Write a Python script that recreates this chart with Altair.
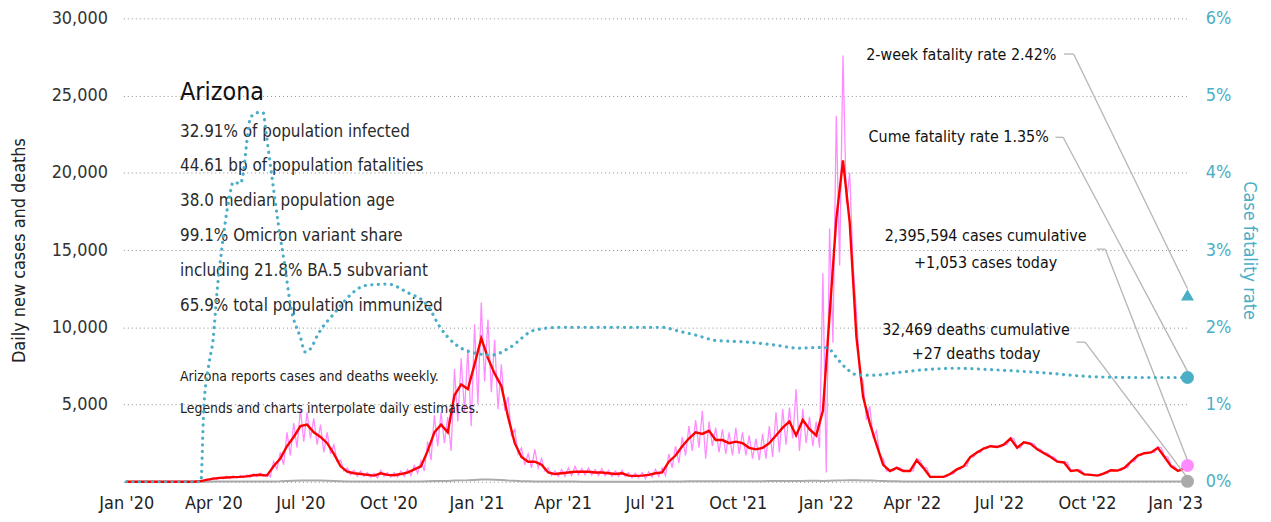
import altair as alt
import pandas as pd

# ---------------- data ----------------
# weekly 7-day average of new cases, weeks starting 2020-01-01
red_7day = [
    0, 0, 0, 0, 0, 0, 0, 0, 0, 0, 5, 30,
    120, 200, 250, 280, 300, 320, 350, 420, 450,
    400, 1000, 1500, 2300, 2900, 3600, 3700, 3200, 2900, 2500,
    1800, 1000, 650, 550, 500, 450, 400, 550, 450, 420,
    500, 600, 800, 1000, 2000, 3200, 3700, 3200, 5600, 6300, 6000, 7600,
    9300, 8000, 7000, 6200, 4200, 2500, 1600, 1300,
    1300, 1100, 600, 500, 550, 600, 650, 650, 650, 600,
    600, 550, 500, 550, 400, 380, 400, 450, 550, 600,
    1300, 1700, 2300, 2800, 3200, 3100, 3300, 2700, 2700, 2500,
    2600, 2500, 2200, 2100, 2200, 2500, 3000, 3500, 3900, 3000,
    4000, 3400, 3000, 4600, 10800, 17000, 20800, 16800, 9400, 5500,
    3800, 2400, 1100, 700, 900, 700, 700, 1400, 900, 320,
    320, 320, 500, 800, 1000, 1600, 1900, 2150, 2300, 2250,
    2400, 2800, 2200, 2550, 2450, 2100, 1850, 1600, 1300, 1250,
    700, 750, 480, 450, 400, 550, 750, 720, 900, 1300,
    1700, 1850, 1900, 2200, 1600, 1000, 700, 900,
]

# reported daily cases, two readings per week (every 3.5 days) from 2020-01-01
pink_daily = [
    0, 0, 0, 0, 0, 0, 0, 0, 0, 0, 0, 0, 0, 0, 0, 0, 0, 0, 0, 0,
    10, 0, 50, 20,
    180, 80, 260, 150, 300, 200, 350, 220, 380, 240, 400, 260, 450, 280, 520, 330, 560, 350,
    500, 320, 1300, 800, 1900, 1100, 3200, 1700, 3800, 2200, 4700, 2600, 4500, 2800, 4100, 2400, 3700, 1900, 3200, 1800,
    2400, 1300, 1400, 700, 900, 450, 750, 350, 700, 350, 600, 300, 550, 250, 750, 350, 600, 300, 600, 300,
    700, 350, 800, 400, 1050, 550, 1350, 700, 2600, 1400, 4300, 2300, 4500, 2500, 4200, 2000, 7300, 3900, 8000, 4500, 8600, 3600, 10200, 5000,
    11600, 6500, 10500, 5800, 9200, 4700, 7600, 4600, 5500, 3000, 3400, 1800, 2200, 1100, 1800, 900,
    2100, 900, 1500, 700, 900, 400, 700, 350, 800, 350, 900, 400, 1000, 450, 850, 450, 900, 450, 800, 400,
    850, 400, 750, 350, 700, 350, 750, 350, 600, 250, 550, 250, 600, 200, 650, 300, 800, 350, 900, 400,
    1800, 900, 2300, 1200, 2900, 1700, 3600, 2000, 4000, 2200, 4600, 1500, 3900, 2300, 3500, 1900, 3400, 1800, 3200, 1700,
    3500, 1800, 3200, 1700, 3000, 1500, 2800, 1400, 3100, 1500, 3600, 1600, 4500, 1900, 4700, 2400, 4800, 2800, 6000, 2000,
    4700, 2500, 4200, 2300, 3900, 2200, 13500, 600, 16400, 9000, 23700, 14000, 27600, 18000, 20000, 14100, 11000, 7000, 6500, 4000,
    4900, 2900, 3300, 1700, 1500, 700, 750, 700, 950, 900, 750, 700, 700, 700, 1500, 1400, 950, 900, 350, 320,
    320, 320, 320, 320, 550, 500, 850, 800, 1050, 1000, 1650, 1600, 1950, 1900, 2200, 2150, 2350, 2300, 2300, 2250,
    2450, 2400, 2850, 2800, 2250, 2200, 2600, 2550, 2500, 2450, 2150, 2100, 1900, 1850, 1650, 1600, 1350, 1300, 1300, 1250,
    750, 700, 800, 750, 500, 480, 480, 450, 420, 400, 600, 550, 800, 750, 750, 720, 950, 900, 1350, 1300,
    1750, 1700, 1900, 1850, 1950, 1900, 2250, 2200, 1650, 1600, 1050, 1000, 750, 700, 950, 1053,
]

# weekly daily deaths, weeks starting 2020-01-01
deaths_weekly = [
    0, 0, 0, 0, 0, 0, 0, 0, 0, 0, 1, 3,
    8, 12, 15, 18, 18, 15, 15, 15, 18,
    18, 20, 30, 50, 70, 85, 90, 85, 75, 60,
    50, 35, 25, 20, 15, 12, 12, 15, 12, 12,
    12, 15, 20, 25, 35, 45, 50, 55, 75, 90, 100, 120,
    140, 150, 130, 110, 80, 60, 40, 30,
    25, 20, 15, 12, 10, 10, 10, 8, 8, 8,
    8, 8, 8, 8, 8, 8, 8, 8, 10, 12,
    15, 20, 25, 30, 35, 40, 40, 40, 40, 35,
    35, 35, 35, 35, 40, 45, 50, 55, 55, 55,
    55, 60, 60, 50, 60, 75, 90, 100, 100, 90,
    80, 60, 50, 40, 30, 25, 20, 15, 12, 10,
    10, 10, 10, 10, 10, 10, 10, 10, 10, 10,
    10, 10, 10, 10, 10, 10, 10, 10, 10, 10,
    10, 10, 10, 10, 10, 10, 10, 10, 10, 10,
    10, 10, 12, 15, 15, 15, 15, 20,
]

# cumulative case fatality rate (%)
cfr_dates = [
    "2020-01-01", "2020-03-19", "2020-03-22", "2020-03-27", "2020-04-01", "2020-04-05",
    "2020-04-10", "2020-04-17", "2020-04-22", "2020-04-29", "2020-05-03", "2020-05-06",
    "2020-05-10", "2020-05-18", "2020-05-23", "2020-05-26", "2020-06-01", "2020-06-08",
    "2020-06-15", "2020-06-21", "2020-07-01", "2020-07-06", "2020-07-12", "2020-07-19",
    "2020-08-06", "2020-08-27", "2020-09-06", "2020-09-30", "2020-10-21", "2020-11-11",
    "2020-11-24", "2020-12-09", "2020-12-19", "2021-01-02", "2021-01-17", "2021-02-05",
    "2021-03-02", "2021-03-29", "2021-05-06", "2021-07-15", "2021-07-28", "2021-08-18",
    "2021-09-08", "2021-10-09", "2021-11-09", "2021-12-03", "2021-12-28", "2022-01-03",
    "2022-01-14", "2022-01-24", "2022-02-04", "2022-02-21", "2022-03-14", "2022-04-14",
    "2022-05-15", "2022-06-26", "2022-08-17", "2022-10-08", "2022-11-29", "2023-01-14",
]
cfr_pct = [
    0, 0, 0.94, 1.49, 1.87, 2.47,
    3.03, 3.63, 3.88, 3.86, 4.05, 4.40,
    4.72, 4.78, 4.78, 4.53, 3.97, 3.33,
    2.77, 2.26, 1.87, 1.68, 1.73, 1.90,
    2.19, 2.47, 2.54, 2.56, 2.45, 2.28,
    2.00, 1.79, 1.71, 1.66, 1.64, 1.74,
    1.96, 2.00, 2.00, 2.00, 1.96, 1.90,
    1.83, 1.81, 1.77, 1.73, 1.74, 1.73,
    1.58, 1.45, 1.38, 1.38, 1.41, 1.45,
    1.47, 1.45, 1.41, 1.36, 1.35, 1.35,
]

# summary figures
state = "Arizona"
info_lines = [
    "32.91% of population infected",
    "44.61 bp of population fatalities",
    "38.0 median population age",
    "99.1% Omicron variant share",
    "including 21.8% BA.5 subvariant",
    "65.9% total population immunized",
]
note_lines = [
    "Arizona reports cases and deaths weekly.",
    "Legends and charts interpolate daily estimates.",
]
last_date = "2023-01-14"
total_cases = 2395594
cases_today = 1053
total_deaths = 32469
deaths_today = 27
cfr_2wk = 2.42
cfr_cume = 1.35

tick_dates = [(y, m) for y in (2020, 2021, 2022) for m in (1, 4, 7, 10)] + [(2023, 1)]
left_ticks = [0, 5000, 10000, 15000, 20000, 25000, 30000]
right_ticks = [0, 0.01, 0.02, 0.03, 0.04, 0.05, 0.06]

# annotation positions (date, left-axis value)
label_right = pd.DataFrame({
    "date": ["2022-08-30", "2022-08-22"],
    "val": [27630, 22300],
    "label": [f"2-week fatality rate {cfr_2wk:.2f}%", f"Cume fatality rate {cfr_cume:.2f}%"],
})
label_center = pd.DataFrame({
    "date": ["2022-06-17", "2022-06-17", "2022-06-07", "2022-06-07"],
    "val": [15900, 14150, 9850, 8250],
    "label": [f"{total_cases:,} cases cumulative", f"+{cases_today:,} cases today",
              f"{total_deaths:,} deaths cumulative", f"+{deaths_today:,} deaths today"],
})
leaders = pd.DataFrame({
    "d1": ["2022-09-07", "2022-09-17", "2022-08-29", "2022-09-06",
           "2022-10-11", "2022-10-20", "2022-09-20", "2022-09-29"],
    "v1": [27690, 27690, 22300, 22300, 15060, 15060, 9040, 9040],
    "d2": ["2022-09-17", last_date, "2022-09-06", last_date,
           "2022-10-20", last_date, "2022-09-29", last_date],
    "v2": [27690, 12500, 22300, 7150, 15060, 1400, 9040, 250],
})

# ---------------- build ----------------
FONT = "'Liberation Sans Narrow', 'DejaVu Sans Condensed', 'Roboto Condensed', 'Arial Narrow', sans-serif"
TEAL = "#4aaec6"
PINK = "#ff8cff"
RED = "#ff0000"
GRAY = "#aaaaaa"
NOFRAME = alt.ViewBackground(stroke="transparent", strokeWidth=0, strokeOpacity=0)

start = pd.Timestamp("2020-01-01")
week_dates = list(pd.date_range(start, periods=len(red_7day), freq="7D")) + [pd.Timestamp(last_date)]
half_dates = pd.date_range(start, periods=len(pink_daily), freq="84h")

cases_df = pd.DataFrame({"date": half_dates, "cases": pink_daily})
avg_df = pd.DataFrame({"date": week_dates, "avg": red_7day + [cases_today]})
deaths_df = pd.DataFrame({"date": week_dates, "deaths": deaths_weekly + [deaths_today]})
cfr_df = pd.DataFrame({"date": pd.to_datetime(cfr_dates), "cfr": [v / 100 for v in cfr_pct]})
end_left = pd.DataFrame({"date": [last_date, last_date], "val": [cases_today, deaths_today],
                         "kind": ["cases", "deaths"]})
end_right = pd.DataFrame({"date": [last_date, last_date], "cfr": [cfr_2wk / 100, cfr_cume / 100],
                          "kind": ["2wk", "cume"]})

xscale = alt.Scale(domain=[alt.DateTime(year=2019, month=12, date=29),
                           alt.DateTime(year=2023, month=1, date=16)])
xaxis = alt.Axis(values=[alt.DateTime(year=y, month=m, date=1) for y, m in tick_dates],
                 format="%b '%y", labelFont=FONT, labelFontSize=18, labelColor="#222",
                 ticks=False, domain=False, grid=False, labelPadding=13, title=None)
yscale_l = alt.Scale(domain=[0, 30000])
yaxis_l = alt.Axis(values=left_ticks, labelFont=FONT, labelFontSize=18,
                   labelColor="#333", ticks=False, domain=False, grid=True,
                   gridColor="#8a8a8a", gridDash=[1, 3], gridWidth=1,
                   labelPadding=16, title="Daily new cases and deaths",
                   titleFont=FONT, titleFontSize=18, titleFontWeight="normal",
                   titleColor="#222", titlePadding=23,
                   labelExpr="datum.value == 0 ? '' : format(datum.value, ',')")
yscale_r = alt.Scale(domain=[0, 0.06])
yaxis_r = alt.Axis(values=right_ticks, format=".0%", orient="right", labelFont=FONT,
                   labelFontSize=18, labelColor=TEAL, ticks=False, domain=False, grid=False,
                   labelPadding=16, title="Case fatality rate", titleFont=FONT,
                   titleFontSize=18, titleFontWeight="normal", titleColor=TEAL,
                   titlePadding=9)

X = alt.X("date:T", scale=xscale, axis=xaxis)

pink = alt.Chart(cases_df).mark_line(color=PINK, strokeWidth=1.3).encode(
    x=X, y=alt.Y("cases:Q", scale=yscale_l, axis=yaxis_l))
gray = alt.Chart(deaths_df).mark_line(color=GRAY, strokeWidth=2).encode(
    x=X, y=alt.Y("deaths:Q", scale=yscale_l, axis=yaxis_l))
red = alt.Chart(avg_df).mark_line(color=RED, strokeWidth=2.4).encode(
    x=X, y=alt.Y("avg:Q", scale=yscale_l, axis=yaxis_l))
lead = alt.Chart(leaders).mark_rule(color="#b5b5b5", strokeWidth=1.3).encode(
    x=alt.X("d1:T", scale=xscale, axis=xaxis), x2="d2:T",
    y=alt.Y("v1:Q", scale=yscale_l, axis=yaxis_l), y2="v2:Q")
dots_l = alt.Chart(end_left).mark_point(filled=True, size=170, opacity=1).encode(
    x=X, y=alt.Y("val:Q", scale=yscale_l, axis=yaxis_l),
    color=alt.Color("kind:N", scale=alt.Scale(domain=["cases", "deaths"], range=[PINK, GRAY]),
                    legend=None))
txt_r = alt.Chart(label_right).mark_text(font=FONT, fontSize=16, color="#111", align="right",
                                         baseline="middle").encode(
    x=X, y=alt.Y("val:Q", scale=yscale_l, axis=yaxis_l), text="label:N")
txt_c = alt.Chart(label_center).mark_text(font=FONT, fontSize=16, color="#111", align="center",
                                          baseline="middle").encode(
    x=X, y=alt.Y("val:Q", scale=yscale_l, axis=yaxis_l), text="label:N")

one = pd.DataFrame({"a": [0]})
title_txt = alt.Chart(one).mark_text(font=FONT, fontSize=25, color="#111", align="left",
                                     baseline="middle").encode(
    x=alt.value(57), y=alt.value(74), text=alt.value(state))
info_txt = alt.Chart(one).mark_text(font=FONT, fontSize=17, color="#2a2a2a", align="left",
                                    baseline="middle", lineHeight=35).encode(
    x=alt.value(57), y=alt.value(114), text=alt.value(info_lines))
note_txt = alt.Chart(one).mark_text(font=FONT, fontSize=14, color="#222", align="left",
                                    baseline="middle", lineHeight=32).encode(
    x=alt.value(57), y=alt.value(361), text=alt.value(note_lines))

left_layer = alt.layer(pink, gray, red, lead, dots_l, txt_r, txt_c, title_txt, info_txt,
                       note_txt).properties(view=NOFRAME)

cfr_line = alt.Chart(cfr_df).mark_line(color=TEAL, strokeWidth=3.2, strokeDash=[0.1, 6.5],
                                       strokeCap="round", interpolate="monotone").encode(
    x=X, y=alt.Y("cfr:Q", scale=yscale_r, axis=yaxis_r))
cfr_pts = alt.Chart(end_right).mark_point(filled=True, size=170, opacity=1, color=TEAL).encode(
    x=X, y=alt.Y("cfr:Q", scale=yscale_r, axis=yaxis_r),
    shape=alt.Shape("kind:N", scale=alt.Scale(domain=["2wk", "cume"],
                                              range=["triangle-up", "circle"]), legend=None))
right_layer = alt.layer(cfr_line, cfr_pts).properties(view=NOFRAME)

chart = alt.layer(left_layer, right_layer).resolve_scale(y="independent").properties(
    width=1072, height=466,
    autosize=alt.AutoSizeParams(type="none"),
    padding={"left": 116, "top": 9, "right": 74, "bottom": 32},
    view=NOFRAME,
).configure_view(stroke="transparent", strokeWidth=0).configure(font=FONT).configure_axis(
    domain=False, ticks=False).configure_axisLeft(
    gridDash=[1, 3], gridColor="#8a8a8a")

chart.save("out.html", embed_options={"renderer": "svg", "actions": False})
